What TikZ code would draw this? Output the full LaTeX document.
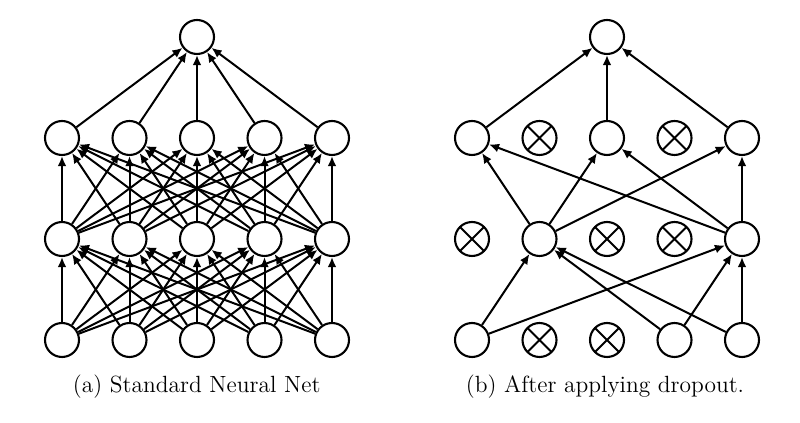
\documentclass[tikz,border=0pt]{standalone}
\usetikzlibrary{arrows.meta}
\begin{document}
\begin{tikzpicture}[x=0.55pt,y=-0.55pt,
 neuron/.style={circle,draw,line width=1.15pt,minimum size=18.7pt,inner sep=0pt},
 dropped/.style={neuron,path picture={\draw[line width=1.15pt] (path picture bounding box.north west)--(path picture bounding box.south east) (path picture bounding box.north east)--(path picture bounding box.south west);}},
 conn/.style={line width=1.1pt,-{Latex[length=5.6pt,width=4.9pt]}},
 captext/.style={font=\fontsize{12.9}{15}\selectfont,anchor=base}]
\useasboundingbox (0,0) rectangle (800,423);
% ---------- left: standard net ----------
\node[neuron] (lt) at (197,37) {};
\foreach \i/\x in {1/62,2/129.5,3/197,4/264.5,5/332}{
  \node[neuron] (la\i) at (\x,340) {};
  \node[neuron] (lb\i) at (\x,239) {};
  \node[neuron] (lc\i) at (\x,138) {};
}
\foreach \i in {1,...,5}{
  \foreach \j in {1,...,5}{
    \draw[conn] (la\i) -- (lb\j);
    \draw[conn] (lb\i) -- (lc\j);
  }
  \draw[conn] (lc\i) -- (lt);
}
% ---------- right: after dropout ----------
\node[neuron] (rt) at (607,37) {};
\node[neuron]  (ra1) at (472,340) {};
\node[dropped] (ra2) at (539.5,340) {};
\node[dropped] (ra3) at (607,340) {};
\node[neuron]  (ra4) at (674.5,340) {};
\node[neuron]  (ra5) at (742,340) {};
\node[dropped] (rb1) at (472,239) {};
\node[neuron]  (rb2) at (539.5,239) {};
\node[dropped] (rb3) at (607,239) {};
\node[dropped] (rb4) at (674.5,239) {};
\node[neuron]  (rb5) at (742,239) {};
\node[neuron]  (rc1) at (472,138) {};
\node[dropped] (rc2) at (539.5,138) {};
\node[neuron]  (rc3) at (607,138) {};
\node[dropped] (rc4) at (674.5,138) {};
\node[neuron]  (rc5) at (742,138) {};
\foreach \i in {1,4,5}{
  \draw[conn] (ra\i) -- (rb2);
  \draw[conn] (ra\i) -- (rb5);
}
\foreach \j in {1,3,5}{
  \draw[conn] (rb2) -- (rc\j);
  \draw[conn] (rb5) -- (rc\j);
  \draw[conn] (rc\j) -- (rt);
}
% ---------- captions ----------
\node[captext] (capa) at (196.7,393) {(a) Standard Neural Net};
\node[captext] (capb) at (605,393) {(b) After applying dropout.};
\end{tikzpicture}
\end{document}
